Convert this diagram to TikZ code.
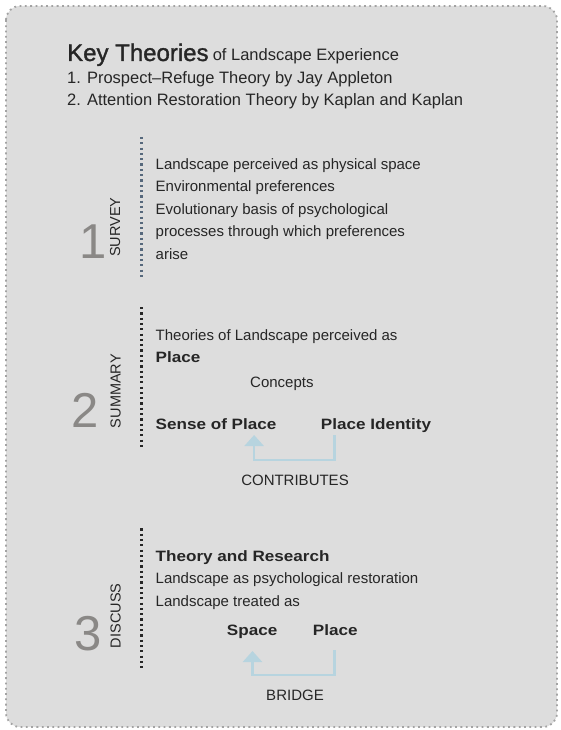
\documentclass[tikz,border=0pt]{standalone}
\usepackage{fontspec}
\setmainfont{Liberation Sans}
\newfontfamily\widebold{Liberation Sans Bold}[FakeStretch=1.14]
\newfontfamily\mediumface{Liberation Sans}[FakeBold=1.3]
\usetikzlibrary{arrows.meta, positioning}

\definecolor{panelgray}{HTML}{DDDDDD}
\definecolor{rimgray}{HTML}{A3A3A3}
\definecolor{inkdark}{HTML}{262626}
\definecolor{numgray}{HTML}{8A8886}
\definecolor{slateblue}{HTML}{56687C}
\definecolor{flowblue}{HTML}{B7D4DF}

\begin{document}
\begin{tikzpicture}[
    x=1pt, y=1pt,
    body/.style={font=\fontsize{15}{18}\selectfont, text=inkdark, inner sep=0pt, anchor=base west},
    head/.style={body, font=\fontsize{16.5}{20}\selectfont},
    term/.style={body, font=\fontsize{15}{18}\selectfont\widebold},
    bignum/.style={font=\fontsize{49}{50}\selectfont, text=numgray, inner sep=0pt, anchor=base east},
    steplabel/.style={font=\fontsize{14.5}{16}\selectfont, text=inkdark, inner sep=0pt, rotate=90, anchor=base west},
    sepline/.style={line width=2.2pt, dash pattern=on 2.2pt off 3.1pt},
    flow/.style={draw=flowblue, line width=2.6pt, -{Triangle[width=19pt,length=11pt]}},
    caption/.style={body, anchor=base}
]
    \useasboundingbox (0,0) rectangle (560,-730);
    \draw[draw=rimgray, fill=panelgray, line width=1.8pt, dash pattern=on 1.8pt off 3.5pt, rounded corners=14pt]
        (6,-6) rectangle (557,-727);

    % header
    \node[body] (title) at (67,-61) {{\fontsize{24}{26}\selectfont\mediumface Key Theories} {\fontsize{16.5}{20}\selectfont of Landscape Experience}};
    \node[head] (pr) at (67,-84) {1. Prospect–Refuge Theory by Jay Appleton};
    \node[head, at={([yshift=-22pt]pr.base west)}] (art) {2. Attention Restoration Theory by Kaplan and Kaplan};

    % 1 survey
    \node[bignum] (n1) at (107,-258) {1};
    \node[steplabel] (survey) at (120,-257) {SURVEY};
    \draw[sepline, slateblue] (141.5,-137) -- (141.5,-277);
    \node[body] (s1a) at (155.5,-169.3) {Landscape perceived as physical space};
    \node[body, at={([yshift=-22.5pt]s1a.base west)}] (s1b) {Environmental preferences};
    \node[body, at={([yshift=-22.5pt]s1b.base west)}] (s1c) {Evolutionary basis of psychological};
    \node[body, at={([yshift=-22.5pt]s1c.base west)}] (s1d) {processes through which preferences};
    \node[body, at={([yshift=-22.5pt]s1d.base west)}] (s1e) {arise};

    % 2 summary
    \node[bignum] (n2) at (99,-427) {2};
    \node[steplabel] (summary) at (120.5,-428.3) {SUMMARY};
    \draw[sepline, inkdark] (141.5,-307) -- (141.5,-448);
    \node[body] (s2a) at (155.5,-340) {Theories of Landscape perceived as};
    \node[term, at={([yshift=-22.7pt]s2a.base west)}] (s2b) {Place};
    \node[body] (concepts) at (250,-387.3) {Concepts};
    \node[term] (sop) at (155.5,-429) {Sense of Place};
    \node[term] (pid) at (320.7,-429) {Place Identity};
    \node[caption] (contrib) at (295,-485.7) {CONTRIBUTES};
    \draw[flow] ([xshift=14pt, yshift=-6pt]pid.base west) -- ++(0,-25)
        -| ([xshift=-22.5pt, yshift=-6pt]sop.base east);

    % 3 discuss
    \node[bignum] (n3) at (102,-650) {3};
    \node[steplabel] (discuss) at (120.5,-648.3) {DISCUSS};
    \draw[sepline, inkdark] (141.5,-528.3) -- (141.5,-668.3);
    \node[term] (s3a) at (155.5,-561) {Theory and Research};
    \node[body, at={([yshift=-22.5pt]s3a.base west)}] (s3b) {Landscape as psychological restoration};
    \node[body, at={([yshift=-22.5pt]s3b.base west)}] (s3c) {Landscape treated as};
    \node[term] (spc) at (226.7,-635) {Space};
    \node[term] (plc) at (312.7,-635) {Place};
    \node[caption] (bridge) at (295,-700) {BRIDGE};
    \draw[flow] ([xshift=22pt, yshift=-15pt]plc.base west) -- ++(0,-25)
        -| ([xshift=-25pt, yshift=-16pt]spc.base east);
\end{tikzpicture}
\end{document}
